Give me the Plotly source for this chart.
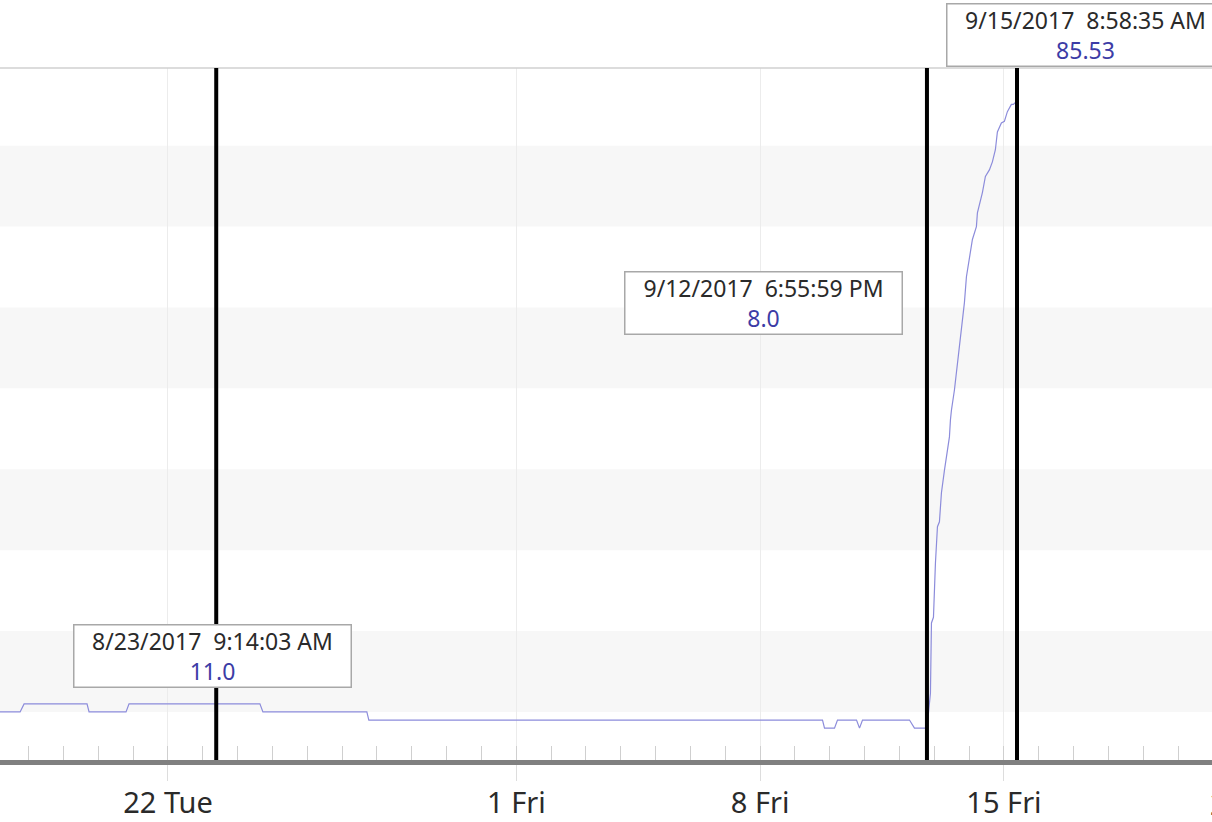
import plotly.graph_objects as go
import pandas as pd

# ---- data ----
times = [
    "2017-08-17 00:00", "2017-08-17 18:06", "2017-08-17 20:51", "2017-08-19 16:13",
    "2017-08-19 17:37", "2017-08-20 19:05", "2017-08-20 21:09", "2017-08-23 09:14:03",
    "2017-08-24 15:20", "2017-08-24 17:24", "2017-08-27 17:01", "2017-08-27 18:23",
    "2017-09-09 18:58", "2017-09-09 20:21", "2017-09-10 03:14", "2017-09-10 05:17",
    "2017-09-10 18:24", "2017-09-10 20:28", "2017-09-10 22:32", "2017-09-12 06:53",
    "2017-09-12 10:19", "2017-09-12 18:55:59", "2017-09-12 21:20", "2017-09-12 22:02",
    "2017-09-12 23:25", "2017-09-13 00:47", "2017-09-13 02:10", "2017-09-13 03:32",
    "2017-09-13 04:55", "2017-09-13 07:00", "2017-09-13 09:03", "2017-09-13 10:25",
    "2017-09-13 11:07", "2017-09-13 11:48", "2017-09-13 13:52", "2017-09-13 15:56",
    "2017-09-13 18:00", "2017-09-13 20:45", "2017-09-13 22:08", "2017-09-14 00:12",
    "2017-09-14 02:15", "2017-09-14 05:00", "2017-09-14 05:42", "2017-09-14 09:08",
    "2017-09-14 11:12", "2017-09-14 13:57", "2017-09-14 16:01", "2017-09-14 18:05",
    "2017-09-14 19:28", "2017-09-14 22:13", "2017-09-15 00:17", "2017-09-15 02:21",
    "2017-09-15 05:06", "2017-09-15 06:29", "2017-09-15 08:58:35",
]
values = [
    10, 10, 11, 11,
    10, 10, 11, 11,
    11, 10, 10, 9,
    9, 8, 8, 9,
    9, 8, 9, 9,
    8, 8, 12.3, 21.0,
    21.7, 28.4, 32.9, 33.5,
    37.1, 39.9, 42.4, 44.0,
    46.1, 47.3, 49.8, 53.2,
    56.4, 60.6, 63.8, 66.3,
    68.4, 70.0, 71.7, 74.2,
    76.2, 77.0, 78.0, 79.5,
    81.7, 82.8, 83.0, 84.2,
    85.1, 85.1, 85.53,
]

cursor_times = ["2017-08-23 09:14:03", "2017-09-12 18:55:59", "2017-09-15 08:58:35"]
cursor_values = [11.0, 8.0, 85.53]
cursor_time_labels = ["8/23/2017\u00a0 9:14:03 AM", "9/12/2017\u00a0 6:55:59 PM", "9/15/2017\u00a0 8:58:35 AM"]
cursor_value_labels = ["11.0", "8.0", "85.53"]

tick_vals = ["2017-08-22", "2017-09-01", "2017-09-08", "2017-09-15", "2017-09-22"]
tick_text = ["22 Tue", "1 Fri", "8 Fri", "15 Fri", "22 Fri"]

x_range = ["2017-08-17 04:15", "2017-09-20 23:20"]
y_range = [4.06, 89.6]
band_starts = [10, 30, 50, 70]
band_height = 10

# ---- styling ----
FONT = "Noto Sans"
LINE_COLOR = "#8c8cdb"
VALUE_COLOR = "#3c3ca6"
TEXT_COLOR = "#2a2a2a"

fig = go.Figure()
fig.add_trace(go.Scatter(
    x=pd.to_datetime(times, format="ISO8601"), y=values, mode="lines",
    line=dict(color=LINE_COLOR, width=1.2), hoverinfo="skip", showlegend=False,
))

shapes = []
for b in band_starts:
    shapes.append(dict(type="rect", xref="paper", yref="y", x0=0, x1=1, y0=b, y1=b + band_height,
                       fillcolor="#f7f7f7", line=dict(width=0), layer="below"))
shapes.append(dict(type="line", xref="paper", yref="paper", x0=0, x1=1, y0=1, y1=1,
                   line=dict(color="#d0d0d0", width=1.5), layer="above"))
for t in cursor_times:
    shapes.append(dict(type="line", xref="x", yref="paper", x0=t, x1=t, y0=0, y1=1,
                       line=dict(color="#000000", width=4), layer="above"))

# label box placement (offsets from the cursor line, in px / paper fraction)
label_xshift = [-4, -163, 68]
label_y = [0.1504, 0.6599, 1.0475]

annotations = []
for t, tl, vl, xs, yy in zip(cursor_times, cursor_time_labels, cursor_value_labels, label_xshift, label_y):
    annotations.append(dict(
        x=t, xref="x", y=yy, yref="paper", xshift=xs, showarrow=False,
        text=f"{tl}<br><span style='color:{VALUE_COLOR}'>{vl}</span>",
        font=dict(family=FONT, size=23, color=TEXT_COLOR),
        bgcolor="#ffffff", bordercolor="#a8a8a8", borderwidth=1.5, borderpad=1,
        width=274, height=59, align="center", xanchor="center", yanchor="middle",
    ))

# partially visible tick label beyond the right edge
r0 = pd.Timestamp(x_range[0]); r1 = pd.Timestamp(x_range[1])
last_frac = (pd.Timestamp(tick_vals[-1]) - r0) / (r1 - r0)
annotations.append(dict(
    x=last_frac, xref="paper", y=0, yref="paper", yshift=-43, showarrow=False,
    text=tick_text[-1], font=dict(family=FONT, size=29, color=TEXT_COLOR),
    xanchor="center", yanchor="middle",
))

fig.update_layout(
    width=1212, height=822,
    margin=dict(l=0, r=0, t=68, b=62, autoexpand=False),
    paper_bgcolor="#ffffff", plot_bgcolor="#ffffff",
    shapes=shapes, annotations=annotations,
    xaxis=dict(
        type="date", range=x_range, automargin=False,
        tickmode="array", tickvals=tick_vals, ticktext=tick_text,
        tickfont=dict(family=FONT, size=29, color=TEXT_COLOR),
        showgrid=True, gridcolor="#ececec", gridwidth=1,
        ticks="outside", ticklen=16, tickcolor="#dddddd", tickwidth=1,
        ticklabelstandoff=-3,
        showline=True, linecolor="#808080", linewidth=5,
        zeroline=False,
        minor=dict(dtick=86400000, tick0="2017-08-22", ticks="inside", ticklen=14,
                   tickcolor="#cfcfcf", tickwidth=1, showgrid=False),
    ),
    yaxis=dict(range=y_range, showgrid=False, showticklabels=False, zeroline=False,
               showline=False, ticks="", automargin=False),
)

fig.write_html("out.html", config={"displayModeBar": False},
               post_script="document.body.style.margin='0';document.body.style.overflow='hidden';")
